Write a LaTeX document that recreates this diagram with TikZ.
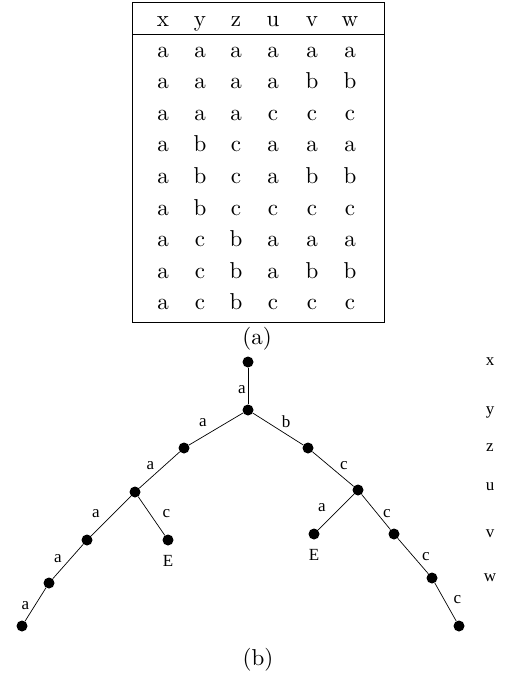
\documentclass[tikz,border=0pt]{standalone}
\usepackage{fontspec}
\newfontfamily\treefont{Liberation Serif}
\newfontfamily\tabfont{lmroman10-regular}[Extension=.otf]
\usetikzlibrary{positioning}

\tikzset{
  vtx/.style={circle, fill=black, inner sep=0pt, minimum size=11pt},
  lbl/.style={font=\treefont\fontsize{17}{17}\selectfont, inner sep=0pt},
  cell/.style={font=\tabfont\fontsize{23}{23}\selectfont, inner sep=0pt, anchor=base},
}

\begin{document}
\begin{tikzpicture}[x=1pt, y=-1pt]
  \useasboundingbox (0,0) rectangle (515,675);

  % table (a)
  \draw[line width=0.9pt] (132,2) rectangle (384,322);
  \draw[line width=0.9pt] (132,34) -- (384,34);
  \foreach \v [count=\c] in {x,y,z,u,v,w}
  {
    \pgfmathsetmacro{\cx}{{163,200,236,273,312,350}[\c-1]}
    \node[cell] (h-\c) at (\cx,26) {\v};
  }
  \foreach \r/\row in {1/{a,a,a,a,a,a},2/{a,a,a,a,b,b},3/{a,a,a,c,c,c},
                      4/{a,b,c,a,a,a},5/{a,b,c,a,b,b},6/{a,b,c,c,c,c},
                      7/{a,c,b,a,a,a},8/{a,c,b,a,b,b},9/{a,c,b,c,c,c}}
    \foreach \v [count=\c] in \row
    {
      \pgfmathsetmacro{\cx}{{163,200,236,273,312,350}[\c-1]}
      \node[cell] (t-\r-\c) at (\cx,{57+(\r-1)*31.6}) {\v};
    }
  \node[font=\tabfont\fontsize{23}{23}\selectfont] (capa) at (257,339) {(a)};

  % tree (b)
  \node[vtx] (root) at (248,362) {};
  \node[vtx] (n1) at (248,410) {};
  \node[vtx] (lz) at (184,448) {};
  \node[vtx] (lu) at (135,492) {};
  \node[vtx] (lv) at (87,540) {};
  \node[vtx] (le) at (168,540) {};
  \node[vtx] (lw) at (49,583) {};
  \node[vtx] (ll) at (22,626) {};
  \node[vtx] (rz) at (308,448) {};
  \node[vtx] (ru) at (358,490) {};
  \node[vtx] (re) at (314,534) {};
  \node[vtx] (rv) at (394,534) {};
  \node[vtx] (rw) at (432,578) {};
  \node[vtx] (rl) at (459,626) {};

  \foreach \a/\b/\t/\dx/\dy in {root/n1/a/-6/4, n1/lz/a/-13/-6, lz/lu/a/-9/-4,
      lu/lv/a/-15/-2, lu/le/c/15/-2, lv/lw/a/-10/-3, lw/ll/a/-10/1,
      n1/rz/b/8/-7, rz/ru/c/11/-3, ru/re/a/-14/-4, ru/rv/c/11/2,
      rv/rw/c/13/1, rw/rl/c/12/-2}
    \draw[line width=0.7pt] (\a) -- node[lbl, shift={(\dx,\dy)}] {\t} (\b);

  \node[lbl, below=9pt of le] (ende1) {E};
  \node[lbl, below=9pt of re] (ende2) {E};

  % levels
  \foreach \v/\y in {x/365.5,y/414,z/451.5,u/490.5,v/537.5,w/581.5}
    \node[lbl, anchor=base] (lev-\v) at (490,\y) {\v};

  \node[font=\tabfont\fontsize{23}{23}\selectfont] (capb) at (258,660) {(b)};
\end{tikzpicture}
\end{document}
